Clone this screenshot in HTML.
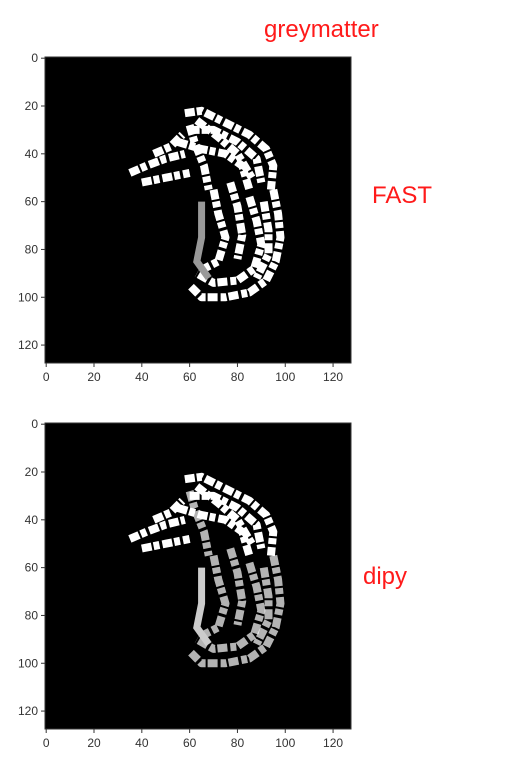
<!DOCTYPE html>
<html><head><meta charset="utf-8"><style>
body{margin:0;background:#fff;width:531px;height:778px;overflow:hidden;font-family:"Liberation Sans","Noto Sans CJK SC",sans-serif}
svg{position:absolute;left:0;top:0}
.lbl{position:absolute;color:#ff1a1a;font-size:24px}
</style></head><body>
<svg id="chart" width="531" height="778"></svg>
<div class="lbl" style="left:264px;top:16px">greymatter</div>
<div class="lbl" style="left:372px;top:182px">FAST</div>
<div class="lbl" style="left:363px;top:563px">dipy</div>
<script>
const ticks=[0,20,40,60,80,100,120];
const gyri=[
 [[58,23],[65,22],[75,27],[85,32],[92,38],[95,45],[94,55]],
 [[60,30],[70,30],[80,35],[88,42],[90,52]],
 [[55,35],[65,38],[75,40],[82,45],[85,55]],
 [[63,26],[72,33],[80,40],[86,50]],
 [[35,48],[42,45],[50,42],[58,40]],
 [[40,52],[50,50],[60,48]],
 [[45,40],[52,37],[57,32]],
 [[95,55],[97,65],[98,75],[96,85],[92,93],[85,98],[75,100],[65,100],[60,95]],
 [[85,58],[88,68],[90,78],[87,88],[80,93],[70,94],[63,90]],
 [[91,60],[93,72],[93,82],[88,92]],
 [[70,55],[72,65],[75,75],[72,85],[66,88]],
 [[77,52],[80,62],[82,74],[80,84]],
 [[60,28],[62,35],[66,45],[68,55]]
];
const greyBand=[[65,60],[65,75],[63,85],[68,92]];
const panels=[{name:'fast',top:57},{name:'dipy',top:423}];
const L=45,S=306/128;
const svg=document.getElementById('chart');
const NS='http://www.w3.org/2000/svg';
function mk(t,a){const e=document.createElementNS(NS,t);for(const k in a)e.setAttribute(k,a[k]);svg.appendChild(e);return e;}
panels.forEach((p,pi)=>{
 const X=v=>L+(v+0.5)*S, Y=v=>p.top+(v+0.5)*S;
 const bg=mk('rect',{x:L,y:p.top,width:306,height:306,fill:'#000',stroke:'#333'});
 
 
 gyri.forEach((g,i)=>{
  const l=mk('polyline',{points:g.map(q=>X(q[0])+','+Y(q[1])).join(' '),fill:'none',stroke:'#fff','stroke-width':8,'stroke-dasharray':'10 2 6 3','stroke-linejoin':'round',opacity:pi==1&&i>=7?0.7:1});
  
  
 });
 const gb=mk('polyline',{points:greyBand.map(q=>X(q[0])+','+Y(q[1])).join(' '),fill:'none',stroke:pi?'#ccc':'#999','stroke-width':7});
 
 
 ticks.forEach(t=>{
  mk('line',{x1:L-4,x2:L,y1:Y(t),y2:Y(t),stroke:'#333'});
  const ty=mk('text',{x:L-7,y:Y(t)+4,'text-anchor':'end','font-size':12,fill:'#333','font-family':'Liberation Sans, sans-serif'});
  ty.textContent=t;
  
  
  mk('line',{x1:X(t),x2:X(t),y1:p.top+306,y2:p.top+310,stroke:'#333'});
  const tx=mk('text',{x:X(t),y:p.top+324,'text-anchor':'middle','font-size':12,fill:'#333','font-family':'Liberation Sans, sans-serif'});
  tx.textContent=t;
  
  
 });
});
</script>
</body></html>
